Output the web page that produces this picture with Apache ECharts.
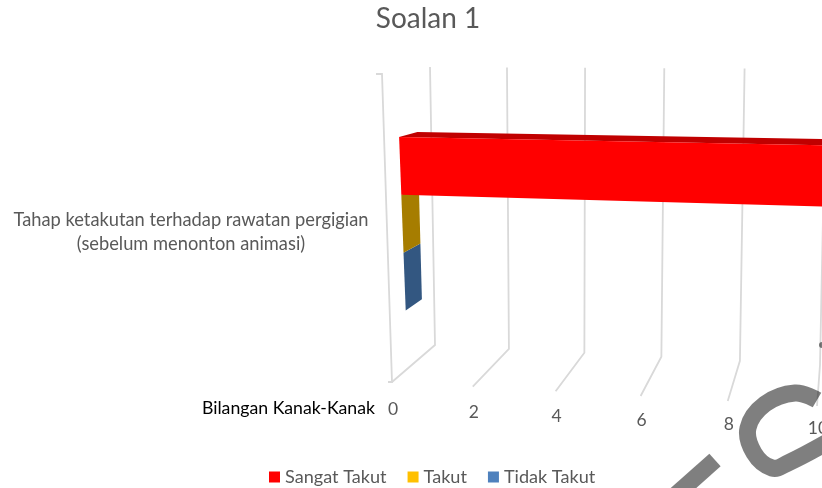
<!DOCTYPE html>
<html>
<head>
<meta charset="utf-8">
<style>
  html, body { margin: 0; padding: 0; background: #fff; }
  #chart { width: 822px; height: 488px; }
</style>
<script src="https://cdn.jsdelivr.net/npm/echarts@6/dist/echarts.min.js"></script>
</head>
<body>
<div id="chart"></div>
<script>
const categories = ['Tahap ketakutan terhadap rawatan pergigian\n(sebelum menonton animasi)'];
const sangatTakut = [16];
const takut = [0];
const tidakTakut = [0];
const xTicks = [0, 2, 4, 6, 8, 10];
const xMax = 16;

const font = 'Lato';
const textColor = '#595959';
const gridColor = '#d9d9d9';

const myChart = echarts.init(document.getElementById('chart'));

// the excel chart is a 3d bar, so the flat grid gets warped onto its box:
// the four long edges of the box, as [x, y] at value 0 and at value 10,
// then how much that edge bends with the perspective
const edges = {
  frontFloor: [[392, 382], [817, 406], 0.000625],
  backFloor: [[435, 345], [820, 365], 0.0005],
  frontTop: [[377, 74], [845, 80], 0.0005],
  backTop: [[430, 67], [826, 69], 0.00035]
};
const depthFront = 0.37;
const depthBack = 0.73;
const barShare = 0.195;

function lerp(a, b, t) {
  return a + (b - a) * t;
}

function onEdge(edge, v) {
  const t = (0.1 - 10 * edge[2]) * v + edge[2] * v * v;
  return [lerp(edge[0][0], edge[1][0], t), lerp(edge[0][1], edge[1][1], t)];
}

function warp(v, h, d) {
  const ff = onEdge(edges.frontFloor, v);
  const bf = onEdge(edges.backFloor, v);
  const ft = onEdge(edges.frontTop, v);
  const bt = onEdge(edges.backTop, v);
  const top = [lerp(ft[0], bt[0], d), lerp(ft[1], bt[1], d)];
  const floor = [lerp(ff[0], bf[0], d), lerp(ff[1], bf[1], d)];
  return [lerp(floor[0], top[0], h), lerp(floor[1], top[1], h)];
}

// grid pixel -> value / height on the box
function fromGrid(p, gr) {
  return [(p[0] - gr.x) / gr.width * xMax, 1 - (p[1] - gr.y) / gr.height];
}

function poly(points, color) {
  return { type: 'polygon', shape: { points: points }, style: { fill: color } };
}

function renderBar(slot, frontColor, topColor, capColor) {
  return function (params, api) {
    const gr = params.coordSys;
    const end = fromGrid(api.coord([api.value(0), api.value(1)]), gr);
    const start = fromGrid(api.coord([0, api.value(1)]), gr);
    const mid = end[1] - 0.013 - slot * barShare;
    const hi = mid + barShare / 2;
    const lo = mid - barShare / 2;
    const v0 = start[0];
    const v1 = end[0];
    return {
      type: 'group',
      children: [
        poly([warp(v1, hi, depthFront), warp(v1, hi, depthBack), warp(v1, lo, depthBack), warp(v1, lo, depthFront)], capColor),
        poly([warp(v0, hi, depthFront), warp(v0, hi, depthBack), warp(v1, hi, depthBack), warp(v1, hi, depthFront)], topColor),
        poly([warp(v0, hi, depthFront), warp(v1, hi, depthFront), warp(v1, lo, depthFront), warp(v0, lo, depthFront)], frontColor)
      ]
    };
  };
}

function renderGridLine(params, api) {
  const gr = params.coordSys;
  const v = fromGrid(api.coord([api.value(0), 0]), gr)[0];
  const front = warp(v, 0, 0);
  const children = [
    {
      type: 'polyline',
      shape: { points: [warp(v, 1, 1), warp(v, 0, 1), front] },
      style: { stroke: gridColor, lineWidth: 1.8, fill: null }
    },
    {
      type: 'text',
      style: {
        text: String(api.value(0)),
        x: front[0] + 1,
        y: front[1] + 27 - 0.5 * v,
        align: 'center',
        verticalAlign: 'middle',
        fill: textColor,
        font: '17.5px ' + font
      }
    }
  ];
  if (api.value(0) === 0) {
    // side wall of the box, with its small ticks
    const top = warp(v, 1, 0);
    children.push({
      type: 'polyline',
      shape: { points: [[top[0] - 1, top[1]], [top[0] + 5, top[1]], [front[0], front[1]], [front[0] - 4, front[1]]] },
      style: { stroke: gridColor, lineWidth: 1.8, fill: null }
    });
  }
  return { type: 'group', children: children };
}

const option = {
  animation: false,
  title: {
    text: 'Soalan 1',
    left: 423,
    top: 0,
    textAlign: 'center',
    textStyle: { color: textColor, fontFamily: font, fontSize: 28, fontWeight: 400 }
  },
  legend: {
    left: 269,
    top: 468,
    padding: 0,
    itemWidth: 11,
    itemHeight: 11,
    itemGap: 21,
    icon: 'rect',
    data: ['Sangat Takut', 'Takut', 'Tidak Takut'],
    textStyle: { color: textColor, fontFamily: font, fontSize: 18.1 }
  },
  grid: { left: 378, right: 0, top: 67, height: 330 },
  xAxis: {
    type: 'value',
    min: 0,
    max: xMax,
    interval: 2,
    offset: 11,
    name: 'Bilangan Kanak-Kanak',
    nameLocation: 'start',
    nameGap: 3,
    nameTextStyle: { color: '#000', fontFamily: font, fontSize: 17.7 },
    axisLine: { show: false },
    axisTick: { show: false },
    axisLabel: { show: false },
    splitLine: { show: false }
  },
  yAxis: {
    type: 'category',
    data: categories,
    axisLine: { show: false },
    axisTick: { show: false },
    axisLabel: {
      align: 'center',
      margin: 187,
      lineHeight: 24,
      padding: [3, 0, 0, 0],
      color: textColor,
      fontFamily: font,
      fontSize: 18.3
    }
  },
  series: [
    {
      name: 'grid',
      type: 'custom',
      z: 1,
      silent: true,
      renderItem: renderGridLine,
      data: xTicks.map(t => [t, 0])
    },
    {
      name: 'Sangat Takut',
      type: 'custom',
      z: 5,
      itemStyle: { color: '#ff0000' },
      renderItem: renderBar(-1, '#ff0000', '#c00000', '#c00000'),
      data: sangatTakut.map((v, i) => [v, i])
    },
    {
      name: 'Takut',
      type: 'custom',
      z: 4,
      itemStyle: { color: '#ffc000' },
      renderItem: renderBar(0, '#ffc000', '#bf9000', '#a67d00'),
      data: takut.map((v, i) => [v, i])
    },
    {
      name: 'Tidak Takut',
      type: 'custom',
      z: 3,
      itemStyle: { color: '#4f81bd' },
      renderItem: renderBar(1, '#4f81bd', '#3b618e', '#335781'),
      data: tidakTakut.map((v, i) => [v, i])
    }
  ],
  // grey scribble lying over the lower right corner of the source image
  graphic: [
    {
      type: 'polyline',
      z: 100,
      silent: true,
      shape: {
        smooth: 0.4,
        points: [[817, 400], [795, 393], [765, 404], [748, 428], [754, 453], [772, 468], [788, 463], [826, 443]]
      },
      style: { fill: null, stroke: 'rgba(0,0,0,0.5)', lineWidth: 17 }
    },
    {
      type: 'line',
      z: 100,
      silent: true,
      shape: { x1: 715, y1: 460, x2: 670, y2: 500 },
      style: { stroke: 'rgba(0,0,0,0.5)', lineWidth: 17 }
    },
    {
      type: 'circle',
      z: 100,
      silent: true,
      shape: { cx: 822, cy: 345, r: 3 },
      style: { fill: 'rgba(0,0,0,0.5)' }
    }
  ]
};

myChart.setOption(option);
</script>
</body>
</html>
